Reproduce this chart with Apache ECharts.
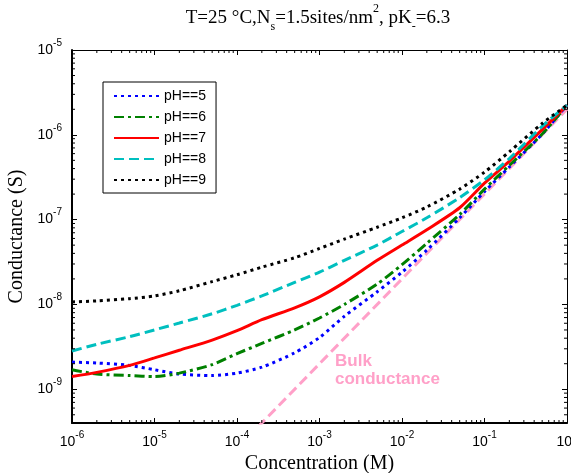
<!DOCTYPE html>
<html><head><meta charset="utf-8">
<script src="https://cdn.jsdelivr.net/npm/echarts@6/dist/echarts.min.js"></script>
<style>html,body{margin:0;padding:0;background:#fff}#c{width:571px;height:473px}</style>
</head><body><div id="c"></div>
<script>
// ---- data ----
const conc = [1e-6, 2e-6, 5e-6, 1e-5, 2e-5, 5e-5, 1e-4, 2e-4, 5e-4, 1e-3, 2e-3, 5e-3, 1e-2, 2e-2, 5e-2, 0.1, 0.2, 0.5, 1];
const pH5 = [2.09e-9, 2.04e-9, 1.91e-9, 1.70e-9, 1.51e-9, 1.45e-9, 1.55e-9, 1.82e-9, 2.69e-9, 4.07e-9, 7.24e-9, 1.41e-8, 2.40e-8, 4.37e-8, 1.05e-7, 2.14e-7, 4.17e-7, 1.02e-6, 2.24e-6];
const pH6 = [1.70e-9, 1.51e-9, 1.45e-9, 1.41e-9, 1.55e-9, 1.95e-9, 2.63e-9, 3.47e-9, 5.01e-9, 6.92e-9, 1.00e-8, 1.74e-8, 2.95e-8, 5.25e-8, 1.15e-7, 2.29e-7, 4.37e-7, 1.02e-6, 2.24e-6];
const pH7 = [1.41e-9, 1.58e-9, 1.91e-9, 2.34e-9, 2.88e-9, 3.80e-9, 4.90e-9, 6.61e-9, 9.12e-9, 1.23e-8, 1.82e-8, 3.31e-8, 5.01e-8, 7.59e-8, 1.38e-7, 2.69e-7, 4.90e-7, 1.15e-6, 2.24e-6];
const pH8 = [2.82e-9, 3.39e-9, 4.17e-9, 5.01e-9, 6.03e-9, 7.76e-9, 9.77e-9, 1.26e-8, 1.82e-8, 2.40e-8, 3.31e-8, 5.01e-8, 7.24e-8, 1.05e-7, 1.82e-7, 2.95e-7, 5.25e-7, 1.26e-6, 2.24e-6];
const pH9 = [1.07e-8, 1.10e-8, 1.17e-8, 1.26e-8, 1.45e-8, 1.86e-8, 2.24e-8, 2.75e-8, 3.55e-8, 4.57e-8, 5.89e-8, 8.13e-8, 1.05e-7, 1.41e-7, 2.29e-7, 3.63e-7, 6.31e-7, 1.36e-6, 2.24e-6];
const bulkConc = [1e-4, 1];
const bulkG = [2e-10, 2e-6];
const seriesNames = ['pH==5', 'pH==6', 'pH==7', 'pH==8', 'pH==9'];
const bulkLabel = 'Bulk\nconductance';
const titleText = '{n|T=25 °C,N}{sub|s}{n|=1.5sites/nm}{sup|2}{n|, pK}{sub|-}{n|=6.3}';
const xName = 'Concentration (M)';
const yName = 'Conductance (S)';
const xMin = 1e-6, xMax = 1, yMin = 4e-10, yMax = 1e-5;
const minorMult = [2, 3, 4, 5, 6, 7, 8, 9];

// ---- helpers ----
const pairs = (xs, ys) => xs.map((x, i) => [x, ys[i]]);
const xMinor = [], yMinor = [];
for (let e = -6; e < 0; e++) minorMult.forEach(m => xMinor.push([m * Math.pow(10, e), 1e-7]));
for (let e = -10; e < -5; e++) minorMult.forEach(m => { const v = m * Math.pow(10, e); if (v > yMin && v < yMax) yMinor.push([1e-3, v]); });

const labelFmt = v => '{b|10}{s|' + Math.round(Math.log10(v)) + '}';
const labelRich = {
  b: {fontFamily: 'Liberation Sans', fontSize: 14, lineHeight: 24, verticalAlign: 'middle', color: '#000'},
  s: {fontFamily: 'Liberation Sans', fontSize: 10, lineHeight: 10, verticalAlign: 'top', color: '#000'}
};

const styles = [
  {color: '#0000FF', type: [3, 4]},
  {color: '#008000', type: [10, 4, 3, 4]},
  {color: '#FF0000', type: 'solid'},
  {color: '#00BFBF', type: [10, 5]},
  {color: '#000000', type: [3, 4]}
];
const curves = [pH5, pH6, pH7, pH8, pH9];

const chart = echarts.init(document.getElementById('c'), null, {renderer: 'canvas'});

const series = [{
  name: 'Bulk', type: 'line', data: pairs(bulkConc, bulkG), symbol: 'none', silent: true,
  lineStyle: {color: '#FFA0C8', width: 3, type: [10, 5], cap: 'butt'}, clip: true, z: 2
}];
curves.forEach((d, i) => series.push({
  name: seriesNames[i], type: 'line', data: pairs(conc, d), symbol: 'none', smooth: 0.25,
  lineStyle: {color: styles[i].color, width: 3, type: styles[i].type, cap: 'butt'},
  itemStyle: {color: styles[i].color}, clip: true, z: 3
}));
series.push({
  type: 'custom', data: xMinor, silent: true, z: 5,
  renderItem: (params, api) => {
    const cs = params.coordSys;
    const x = api.coord([api.value(0), api.value(1)])[0];
    const st = {stroke: '#000', lineWidth: 1};
    return {type: 'group', children: [
      {type: 'line', shape: {x1: x, y1: cs.y + cs.height, x2: x, y2: cs.y + cs.height - 3}, style: st},
      {type: 'line', shape: {x1: x, y1: cs.y, x2: x, y2: cs.y + 3}, style: st}
    ]};
  }
});
series.push({
  type: 'custom', data: yMinor, silent: true, z: 5,
  renderItem: (params, api) => {
    const cs = params.coordSys;
    const y = api.coord([api.value(0), api.value(1)])[1];
    const st = {stroke: '#000', lineWidth: 1};
    return {type: 'group', children: [
      {type: 'line', shape: {x1: cs.x, y1: y, x2: cs.x + 3, y2: y}, style: st},
      {type: 'line', shape: {x1: cs.x + cs.width, y1: y, x2: cs.x + cs.width - 3, y2: y}, style: st}
    ]};
  }
});

const baseAxis = {
  type: 'log', logBase: 10, splitLine: {show: false},
  axisTick: {show: true, inside: true, length: 5, lineStyle: {color: '#000', width: 1}},
  minorTick: {show: false}
};

chart.setOption({
  animation: false,
  backgroundColor: '#fff',
  grid: {left: 72, right: 4, top: 50, bottom: 50, containLabel: false, outerBoundsMode: 'none'},
  legend: {
    data: seriesNames, orient: 'vertical', left: 103, top: 82,
    itemWidth: 45, itemHeight: 14, itemGap: 7, padding: [7, 10, 6, 10],
    borderColor: '#000', borderWidth: 1, backgroundColor: '#fff',
    itemStyle: {color: 'rgba(0,0,0,0)', borderColor: 'rgba(0,0,0,0)', borderWidth: 0},
    textStyle: {fontFamily: 'Liberation Sans', fontSize: 14, color: '#000'},
    selectedMode: false
  },
  xAxis: [
    Object.assign({}, baseAxis, {
      position: 'bottom', min: xMin, max: xMax,
      name: xName, nameLocation: 'middle', nameGap: 30,
      nameTextStyle: {fontFamily: 'Liberation Serif', fontSize: 20, color: '#000'},
      axisLine: {show: true, lineStyle: {color: '#000', width: 2}},
      axisLabel: {formatter: labelFmt, rich: labelRich, margin: 7}
    }),
    Object.assign({}, baseAxis, {
      position: 'top', min: xMin, max: xMax,
      axisLine: {show: true, lineStyle: {color: '#000', width: 1}},
      axisLabel: {show: false}
    })
  ],
  yAxis: [
    Object.assign({}, baseAxis, {
      position: 'left', min: yMin, max: yMax,
      name: yName, nameLocation: 'middle', nameGap: 40,
      nameTextStyle: {fontFamily: 'Liberation Serif', fontSize: 20, color: '#000'},
      axisLine: {show: true, lineStyle: {color: '#000', width: 2}},
      axisLabel: {formatter: labelFmt, rich: labelRich, margin: 10, showMinLabel: false}
    }),
    Object.assign({}, baseAxis, {
      position: 'right', min: yMin, max: yMax,
      axisLine: {show: true, lineStyle: {color: '#000', width: 1}},
      axisLabel: {show: false}
    })
  ],
  graphic: [{
    type: 'text', x: 318, y: 18, silent: true,
    style: {
      text: titleText, align: 'center', verticalAlign: 'middle',
      rich: {
        n: {fontFamily: 'Liberation Serif', fontSize: 19, lineHeight: 30, verticalAlign: 'middle', fill: '#000'},
        sup: {fontFamily: 'Liberation Serif', fontSize: 12, lineHeight: 12, verticalAlign: 'top', fill: '#000'},
        sub: {fontFamily: 'Liberation Serif', fontSize: 12, lineHeight: 12, verticalAlign: 'bottom', fill: '#000'}
      }
    }
  }, {
    type: 'text', left: 335, top: 352, silent: true,
    style: {text: bulkLabel, fill: '#FFA0C8', font: 'bold 17px "Liberation Sans"', lineHeight: 18}
  }],
  series: series
});
</script>
</body></html>
